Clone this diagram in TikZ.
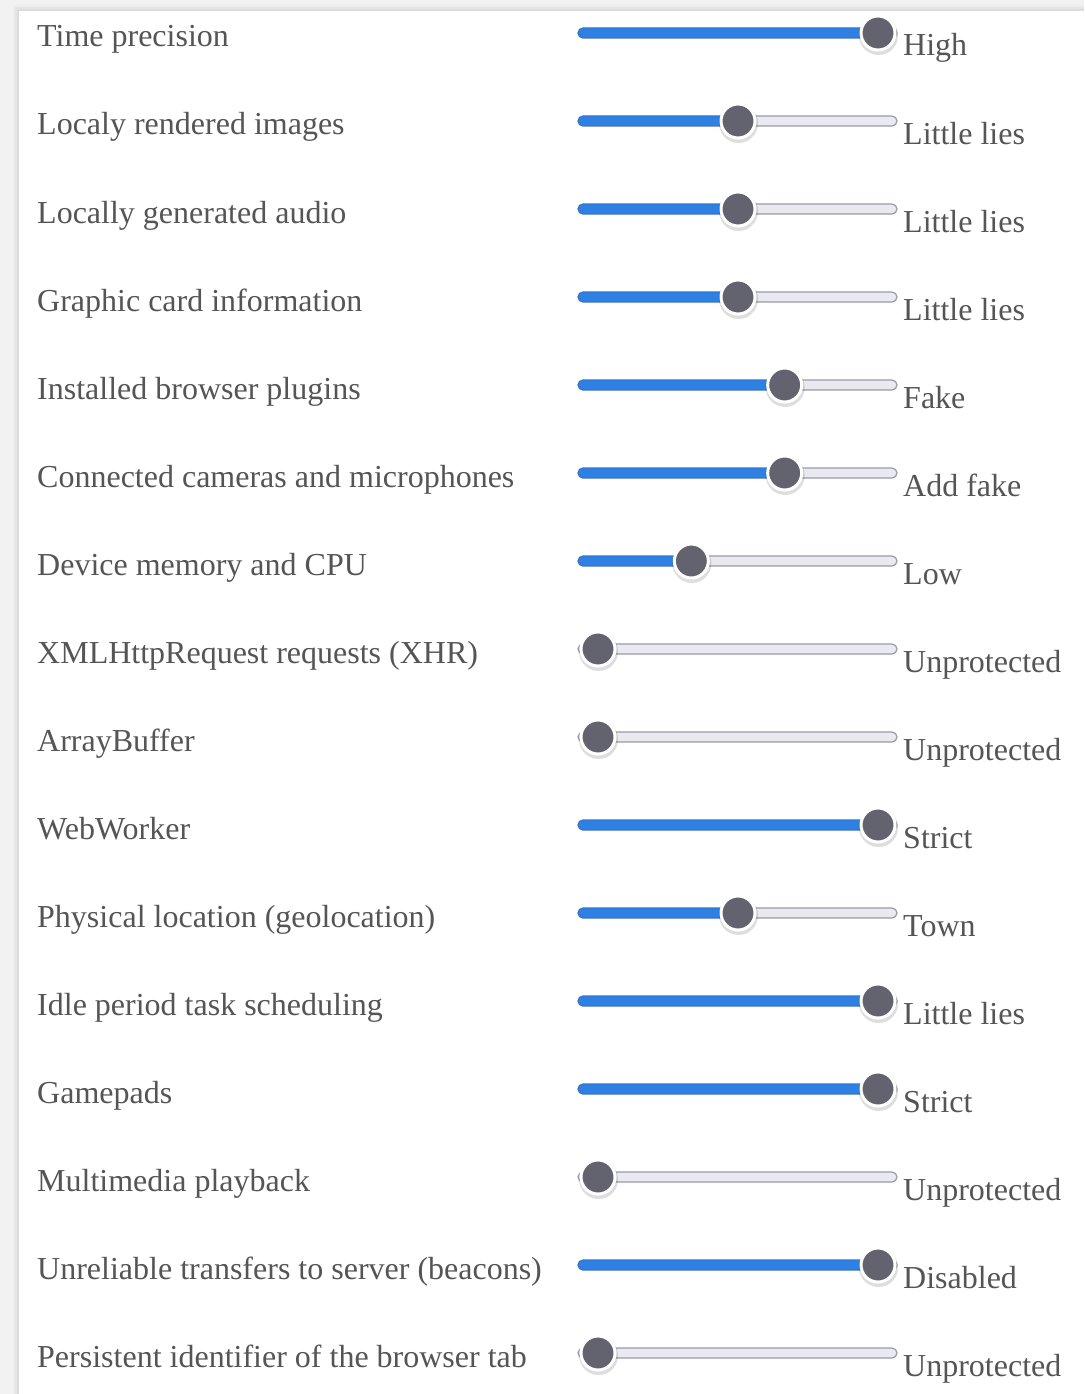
\documentclass[tikz,border=0pt]{standalone}
\usepackage{fontspec}
\setmainfont{Liberation Serif}
\definecolor{txt}{HTML}{555555}
\definecolor{trackbg}{HTML}{E9E9F0}
\definecolor{trackedge}{HTML}{9A9AAA}
\definecolor{fillblue}{HTML}{2F80E3}
\definecolor{fillblueedge}{HTML}{2A72CF}
\definecolor{knob}{HTML}{63636F}
\definecolor{pagebg}{HTML}{F2F2F2}
\begin{document}
\begin{tikzpicture}[x=1pt,y=-1pt,
  lab/.style={anchor=base west, inner sep=0pt, text=txt, font=\fontsize{32}{38}\selectfont},
  trackstyle/.style={fill=trackbg, draw=trackedge, line width=1.2pt, rounded corners=5pt},
  fillstyle/.style={fill=fillblue, draw=fillblueedge, line width=0.8pt, rounded corners=5pt},
  knobstyle/.style={circle, minimum size=34pt, inner sep=0pt, fill=knob, draw=white, line width=3pt},
  knobshadow/.style={fill=black, opacity=0.13}]
\useasboundingbox (0,0) rectangle (1084,1394);
% page background and panel
\fill[pagebg] (0,0) rectangle (1084,1394);
\foreach \s/\o in {6/0.02,4/0.03,2/0.04}{
  \fill[black, opacity=\o] (19-\s,11-\s) rectangle (1084,1394);
}
\fill[white] (19,11) rectangle (1084,1394);
% rows
\foreach \i/\name/\f/\val in {
  1/Time precision/1/High,
  2/Localy rendered images/0.5/Little lies,
  3/Locally generated audio/0.5/Little lies,
  4/Graphic card information/0.5/Little lies,
  5/Installed browser plugins/0.6667/Fake,
  6/Connected cameras and microphones/0.6667/Add fake,
  7/Device memory and CPU/0.3333/Low,
  8/XMLHttpRequest requests (XHR)/0/Unprotected,
  9/ArrayBuffer/0/Unprotected,
  10/WebWorker/1/Strict,
  11/Physical location (geolocation)/0.5/Town,
  12/Idle period task scheduling/1/Little lies,
  13/Gamepads/1/Strict,
  14/Multimedia playback/0/Unprotected,
  15/Unreliable transfers to server (beacons)/1/Disabled,
  16/Persistent identifier of the browser tab/0/Unprotected}{
  \pgfmathsetmacro{\yb}{47+88*(\i-1)}
  \pgfmathsetmacro{\yc}{\yb-14}
  \pgfmathsetmacro{\kx}{598+280*\f}
  \node[lab] (label\i) at (37,\yb) {\name};
  \draw[trackstyle] (578,\yc-5) rectangle (897,\yc+5);
  \ifdim\f pt>0pt
    \draw[fillstyle] (578,\yc-5) rectangle (\kx,\yc+5);
  \fi
  \fill[knobshadow] (\kx+0.5,\yc+2.5) circle (19.5);
  \node[knobstyle] (knob\i) at (\kx,\yc) {};
  \node[lab] (value\i) at (903,\yb+9) {\val};
}
\end{tikzpicture}
\end{document}
